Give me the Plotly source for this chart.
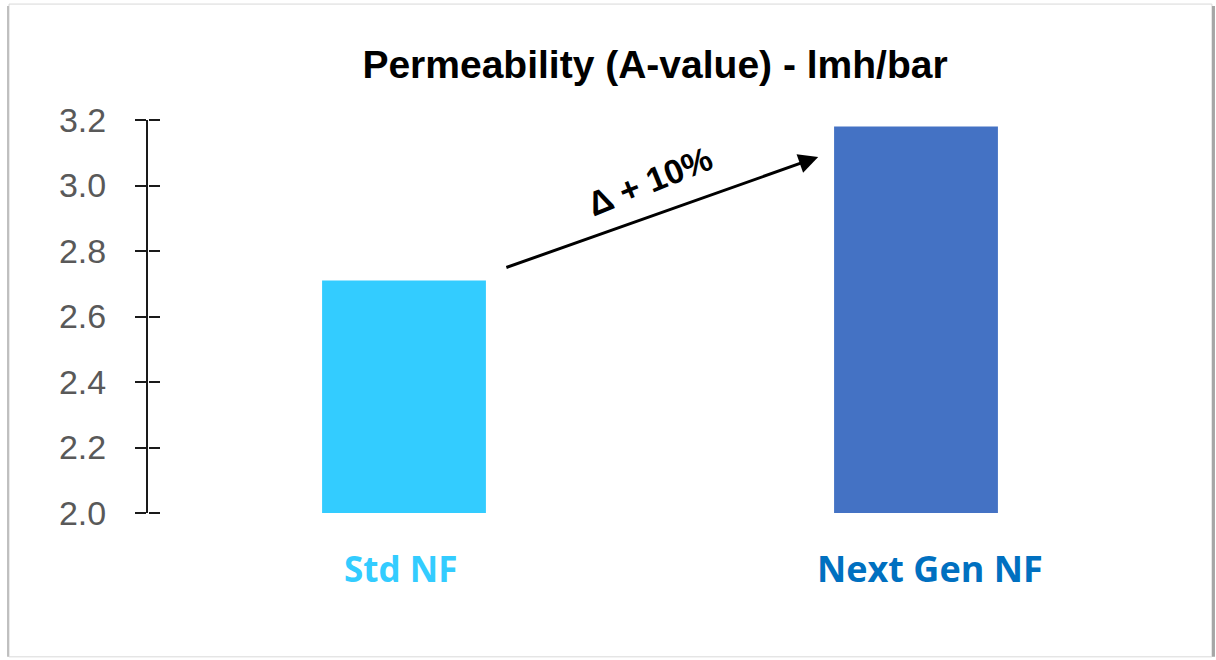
import plotly.graph_objects as go

# Permeability comparison of two NF membranes
categories = ["Std NF", "Next Gen NF"]
a_values = [2.71, 3.18]
bar_colors = ["#33CCFF", "#4472C4"]
label_colors = ["#33CCFF", "#0070C0"]
y_ticks = [2.0, 2.2, 2.4, 2.6, 2.8, 3.0, 3.2]
y_tick_labels = ["2.0", "2.2", "2.4", "2.6", "2.8", "3.0", "3.2"]
delta_label = "Δ + 10%"

fig = go.Figure()
fig.add_trace(go.Bar(
    x=categories, y=a_values, marker=dict(color=bar_colors, line=dict(width=0)),
    showlegend=False, hoverinfo="x+y",
))
# invisible trace holding the overlay axis that draws the right half of the ticks
fig.add_trace(go.Scatter(x=categories, y=a_values, yaxis="y2", mode="markers",
                         marker=dict(opacity=0), showlegend=False, hoverinfo="skip"))

axis_common = dict(range=[2.0, 3.2], tickvals=y_ticks, showgrid=False, zeroline=False)

fig.update_layout(
    width=1216, height=660,
    margin=dict(l=148, r=44, t=120, b=147),
    paper_bgcolor="white", plot_bgcolor="white",
    bargap=0.68,
    title=dict(text="<b>Permeability (A-value) - lmh/bar</b>", x=655 / 1216, xanchor="center",
               y=1 - 64 / 660, yanchor="middle",
               font=dict(family="Liberation Sans, Arial", size=39, color="#000000")),
    xaxis=dict(showticklabels=False, showline=False, ticks="", showgrid=False,
               zeroline=False, range=[-0.5, 1.5]),
    yaxis=dict(**axis_common, ticktext=y_tick_labels, showline=True, linecolor="#1a1a1a",
               linewidth=2, ticks="outside", ticklen=11, tickwidth=2, tickcolor="#1a1a1a",
               ticklabelstandoff=22,
               tickfont=dict(family="Liberation Sans, Arial", size=34, color="#595959")),
    yaxis2=dict(**axis_common, overlaying="y", side="right", anchor="free", position=0,
                showline=False, ticks="outside", ticklen=11, tickwidth=2,
                tickcolor="#1a1a1a", showticklabels=False),
)

# category labels in their series colours
for i, (cat, col) in enumerate(zip(categories, label_colors)):
    fig.add_annotation(x=cat, xref="x", y=-0.14, yref="paper", yanchor="middle",
                       text=f"<b>{cat}</b>", showarrow=False, xshift=[-4, 14][i],
                       font=dict(family="Open Sans", size=[35, 36][i], color=col))

# growth arrow between the bars
fig.add_annotation(x=0.809, y=3.087, xref="x", yref="y", ax=0.197, ay=2.748,
                   axref="x", ayref="y", text="", showarrow=True, arrowhead=2,
                   arrowsize=1.3, arrowwidth=3, arrowcolor="#000000")
fig.add_annotation(x=0.48, y=3.015, xref="x", yref="y", text=f"<b>{delta_label}</b>",
                   showarrow=False, textangle=-22,
                   font=dict(family="Liberation Sans, Arial", size=34, color="#000000"))

# slide frame with a soft shadow
fig.add_shape(type="rect", xref="paper", yref="paper", x0=-0.1357, x1=1.039,
              y0=-0.366, y1=1.295, line=dict(color="#d9d9d9", width=1), layer="below")
fig.add_shape(type="line", xref="paper", yref="paper", x0=1.0405, x1=1.0405,
              y0=-0.366, y1=1.29, line=dict(color="#a6a6a6", width=3))
fig.add_shape(type="line", xref="paper", yref="paper", x0=-0.1367, x1=-0.1367,
              y0=-0.366, y1=1.29, line=dict(color="#bfbfbf", width=2))

fig.write_html("out.html")
